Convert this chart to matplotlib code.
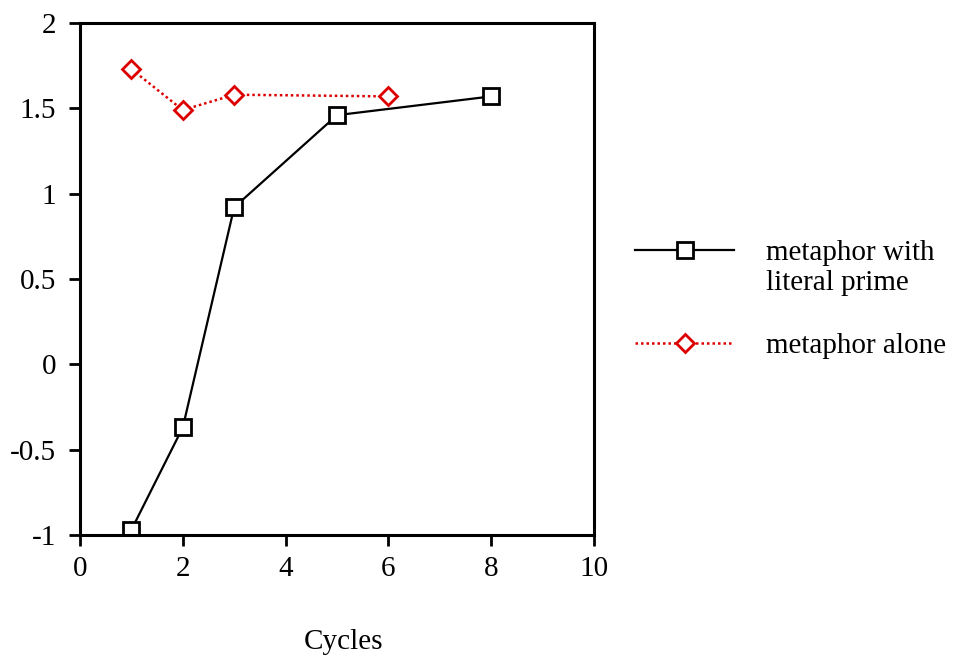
import matplotlib.pyplot as plt

plt.rcParams['font.family'] = ['Liberation Serif', 'DejaVu Serif']

cycles_primed = [1, 2, 3, 5, 8]
score_primed = [-0.97, -0.37, 0.92, 1.46, 1.57]
cycles_alone = [1, 2, 3, 6]
score_alone = [1.73, 1.49, 1.58, 1.57]
labels = ["metaphor with", "metaphor alone"]
label_second_line = "literal prime"

fig = plt.figure(figsize=(9.59, 6.58), dpi=100)
ax = fig.add_axes([0.0834, 0.187, 0.536, 0.778])

ax.plot(cycles_primed, score_primed, color="black", lw=1.6, marker="s",
        markersize=12, markerfacecolor="white", markeredgecolor="black",
        markeredgewidth=2, label=labels[0])
ax.plot(cycles_alone, score_alone, color="#dd0000", lw=1.8, ls=(0, (1, 1.2)),
        marker="D", markersize=9, markerfacecolor="white",
        markeredgecolor="#dd0000", markeredgewidth=2, label=labels[1])

ax.set_xlim(0, 10)
ax.set_ylim(-1, 2)
ax.set_xticks([0, 2, 4, 6, 8, 10])
ax.set_xticklabels(["0", "2", "4", "6", "8", "10"])
ax.set_yticks([-1, -0.5, 0, 0.5, 1, 1.5, 2])
ax.set_yticklabels(["-1", "-0.5", "0", "0.5", "1", "1.5", "2"])
ax.tick_params(direction="out", length=8, width=2, labelsize=21)
ax.tick_params(axis="y", pad=9)
ax.tick_params(axis="x", pad=7)
ax.tick_params(top=False, right=False)
for s in ax.spines.values():
    s.set_linewidth(2.2)
ax.set_xlabel("Cycles", fontsize=21, va="top")
ax.xaxis.set_label_coords(0.512, -0.183)

fig.legend(loc="center left", bbox_to_anchor=(0.635, 0.545), frameon=False,
           fontsize=21, handlelength=3.4, labelspacing=2.27, handletextpad=1.1)
# second line of the first legend entry
fig.text(0.7987, 0.570, label_second_line, va="center", ha="left", fontsize=21)

fig.savefig("out.png", dpi=100)
